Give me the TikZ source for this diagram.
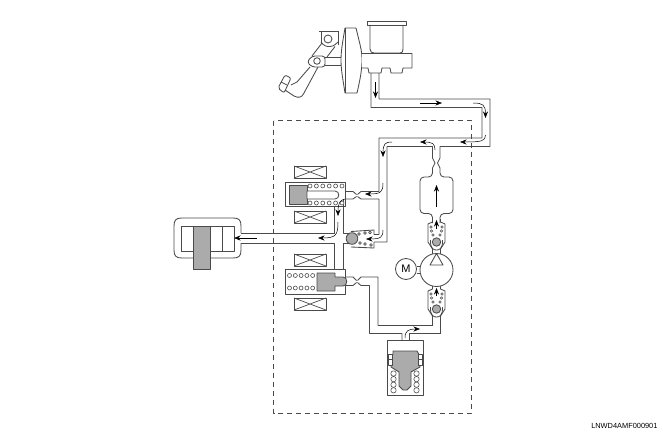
\documentclass[tikz,border=0pt]{standalone}
\usepackage{fontspec}
\setmainfont{Liberation Sans}
\usetikzlibrary{arrows.meta}
\definecolor{wallgray}{HTML}{4A4A4A}
\definecolor{partgray}{HTML}{ABABAB}
\tikzset{
    wall/.style={draw=wallgray, line width=0.85pt, line join=round},
    part/.style={wall, fill=partgray},
    coil/.style={wall, line width=0.6pt, fill=white},
    flow/.style={draw=black, line width=0.5pt, -{Stealth[length=6.5pt, width=5pt]}},
    magnet/.style={wall, line width=0.7pt}
}
\begin{document}
\begin{tikzpicture}[x=1pt, y=-1pt]
    % the frame
    \useasboundingbox (0,0) rectangle (663,436);
    \draw[wall, dashed, dash pattern=on 5pt off 4pt] (273.5,120.5) rectangle (471.5,413);

    % the pedal
    \draw[wall] (319,31) -- (339,31);
    \draw[wall] (321,31) -- (321,42) (338,31) -- (338,45);
    \draw[wall, rounded corners=3pt] (321,42) -- (325,46.5) -- (333,46.5) -- (338,42);
    \draw[wall] (328,39) circle (4);
    \draw[wall] (322,43) -- (312,56) (335,46.5) -- (327,57);
    \draw[wall, rounded corners=3pt] (312,56) -- (325,56) -- (325,67) -- (312,67) -- (307,62) -- cycle;
    \draw[wall] (317,61) circle (3.3);
    \draw[wall] (310,67) -- (297,82) -- (291,85);
    \draw[wall] (318,67) -- (304,93) .. controls (302,98) and (298,98) .. (294,96) -- (285,90);
    \draw[wall, rounded corners=2pt] (278,88) -- (285,75) -- (291,78) -- (284,93) -- cycle;
    \draw[wall] (281,82) -- (287,85);
    \draw[wall] (325,57) -- (341,57) (325,65) -- (341,65);

    % the booster
    \draw[wall, fill=white] (345,28) -- (356,28) .. controls (360,45) and (362,50) .. (362,60)
        .. controls (362,70) and (360,80) .. (357,93) -- (345,93)
        .. controls (343,80) and (341,70) .. (341,60) .. controls (341,50) and (343,40) .. (345,28) -- cycle;
    \draw[wall] (345,28) -- (345,93);

    % the master cylinder
    \draw[wall] (367,21) rectangle (406,25);
    \draw[wall] (370,25) -- (370,49) .. controls (370,52) and (372,53) .. (374,53) -- (400,53)
        .. controls (402,53) and (403,52) .. (403,49) -- (403,25);
    \draw[wall, fill=white] (362,53.5) -- (412,53.5) -- (412,68) -- (403,68) -- (402,73) -- (391,73)
        -- (390,68) -- (382,68) -- (381,73) -- (369,73) -- (368,68) -- (362,68);

    % the pipe to the unit
    \draw[wall] (371,73) -- (371,107.5) -- (482,107.5) -- (482,138) -- (379,138) -- (379,191.5)
        -- (361,191.5) -- (357.5,194.5);
    \draw[wall] (357.5,196.5) -- (361,199) -- (379,199) -- (379,234.5) -- (374,234.5);
    \draw[wall] (379,73) -- (379,99) -- (490,99) -- (490,146.5) -- (440,146.5) -- (440,158)
        -- (437.5,163) -- (440,168);
    \draw[wall, rounded corners=4pt] (440,168) -- (440,177) -- (453,177) -- (453,213.5) -- (440,213.5) -- (440,223);
    \draw[wall, rounded corners=4pt] (432.5,223) -- (432.5,213.5) -- (420,213.5) -- (420,177) -- (432.5,177) -- (432.5,168);
    \draw[wall] (432.5,168) -- (435,163) -- (432.5,158) -- (432.5,146.5) -- (387,146.5)
        -- (387,242) -- (374,242);
    \draw[wall] (345,191.5) -- (353,191.5) -- (356.5,194.5) (356.5,196.5) -- (353,199) -- (345,199);

    % the pipe to the wheel
    \draw[wall] (350,233) -- (343,233) -- (343,199);
    \draw[wall] (334.5,207) -- (334.5,233) -- (241,233);
    \draw[wall] (241,243) -- (334.5,243) -- (334.5,269);
    \draw[wall] (343,269) -- (343,243) -- (350,243);

    % the wheel cylinder
    \draw[wall] (241,233) -- (241,226) .. controls (241,220) and (239,218) .. (233,218) -- (182,218)
        .. controls (176,218) and (174,220) .. (174,226) -- (174,250) .. controls (174,256) and (176,258) .. (182,258)
        -- (233,258) .. controls (239,258) and (241,256) .. (241,250) -- (241,243);
    \draw[wall] (181,226) rectangle (234,251);
    \draw[wall] (222,226) -- (222,251);
    \draw[part] (193,226) rectangle (210,269);

    % the solenoid valves
    \foreach \ypos in {166,211,254,298} {
        \draw[magnet] (294,\ypos) rectangle (326,\ypos+12);
        \draw[magnet] (294,\ypos) -- (326,\ypos+12) (294,\ypos+12) -- (326,\ypos);
    };
    \draw[wall] (285,182) rectangle (345,206.5);
    \draw[part] (289,185) rectangle (307,204);
    \draw[wall, fill=white] (307,191) -- (335,191) .. controls (340,191) and (340,199) .. (335,199) -- (307,199) -- cycle;
    \foreach \i in {0,...,5} {
        \draw[coil] ({310+\i*6.4},186) circle (2);
        \draw[coil] ({310+\i*6.4},203) circle (2);
    };
    \draw[wall] (285,269.5) rectangle (345,294);
    \draw[part] (317,273) -- (335,273) -- (335,277) -- (343,277) .. controls (348,277) and (348,286) .. (343,286)
        -- (335,286) -- (335,291) -- (317,291) -- cycle;
    \foreach \i in {0,...,4} {
        \draw[coil] ({289.5+\i*5.8},275.5) circle (2);
        \draw[coil] ({289.5+\i*5.8},288) circle (2);
    };
    \draw[wall] (345,277) -- (353,277) -- (356.5,280.5) (356.5,282.5) -- (353,285.5) -- (345,285.5);
    \draw[wall] (378,325.5) -- (378,277) -- (361,277) -- (357.5,280.5);
    \draw[wall] (357.5,282.5) -- (361,285.5) -- (369.5,285.5) -- (369.5,333.5) -- (402,333.5) -- (402,340);

    % the check valve
    \draw[wall] (351,231.5) -- (374,230) -- (374,234.5);
    \draw[wall] (351,247) -- (374,248) -- (374,242);
    \draw[part] (352,238.5) circle (5.8);
    \foreach \xpos/\ypos in {359/234, 365/233, 370/232.5, 360/243, 365/244, 371/245} {
        \draw[coil] (\xpos,\ypos) circle (1.4);
    };

    % the pump
    \draw[wall] (432.5,325.5) -- (378,325.5);
    \draw[wall] (441,333.5) -- (409,333.5) -- (409,340);
    \foreach \ypos in {222,289} {
        \begin{scope}[shift={(0,\ypos)}]
            \draw[wall] (432.5,-3) -- (432.5,0) -- (428,2) -- (428,20) -- (432.5,27) -- (432.5,32);
            \draw[wall] (440.5,-3) -- (440.5,0) -- (445,2) -- (445,20) -- (440.5,27) -- (440.5,32);
            \draw[wall] (430.5,18) .. controls (430,27) and (434,28) .. (436.5,28)
                .. controls (439,28) and (443,27) .. (442.5,18);
            \draw[part] (436.5,20) circle (4.2);
            \foreach \xpos/\yshift in {431/5, 442/5, 431.5/9, 441.5/9, 433/13, 440/13} {
                \draw[coil] (\xpos,\yshift) circle (1.3);
            };
        \end{scope}
    };
    \draw[wall] (432.5,321) -- (432.5,325.5);
    \draw[wall] (440.5,321) -- (440.5,333.5);
    \draw[wall, fill=white] (436.5,270) circle (16.5);
    \draw[wall] (436.5,253.5) -- (430,265) -- (443,265) -- cycle;
    \node[draw=wallgray, line width=0.85pt, circle, minimum size=21pt, inner sep=0pt, font=\fontsize{11}{11}\selectfont] (motor) at (406,269) {M};
    \draw[wall] (motor.east |- 0,266) -- (420.5,266) (motor.east |- 0,273) -- (420.5,273);

    % the reservoir pad
    \draw[wall] (387,340) rectangle (423,395);
    \draw[part] (393,354) -- (391,356) -- (391,367) -- (399,372) -- (399,386) -- (403,390) -- (407,390)
        -- (411,386) -- (411,372) -- (420,367) -- (420,356) -- (417,351) -- (393,351) -- cycle;
    \draw[wall, fill=white] (388,354) rectangle (392,365);
    \draw[wall, fill=white] (418,354) rectangle (422,365);
    \draw[wall] (388,359.5) -- (392,359.5) (418,359.5) -- (422,359.5);
    \foreach \i in {0,...,3} {
        \draw[coil] (393.5,{373.5+\i*5.6}) circle (2.7);
        \draw[coil] (416.5,{373.5+\i*5.6}) circle (2.7);
    };

    % the flow arrows
    \draw[flow] (375.5,82) -- (375.5,98);
    \draw[flow] (420,103) -- (442,103);
    \draw[flow] (473,103) .. controls (483,103) and (485.5,105) .. (485.5,118);
    \draw[flow] (485.5,135) .. controls (485.5,141) and (482,142) .. (460,142);
    \draw[flow] (435,150) .. controls (435,144) and (433,142) .. (420,142);
    \draw[flow] (392,142) .. controls (385,142) and (383,144) .. (383,157);
    \draw[flow] (383,183) .. controls (383,192) and (381,194) .. (365,194);
    \draw[flow] (383,230) .. controls (383,237) and (381,239) .. (366,239);
    \draw[flow] (345,199) .. controls (340,200) and (338,203) .. (338,216);
    \draw[flow] (338,222) .. controls (338,235) and (336,238) .. (318,238);
    \draw[flow] (257,238) -- (234,238);
    \draw[flow] (436.5,207) -- (436.5,185);
    \draw[flow] (436.5,229) -- (436.5,220);
    \draw[flow] (436.5,296) -- (436.5,288);
    \draw[flow] (405,338) .. controls (405,331) and (408,329) .. (420,329);

    % the code
    \node[anchor=east, font=\fontsize{7.4}{8}\selectfont, text=black] (code) at (661,426) {LNWD4AMF000901};
\end{tikzpicture}
\end{document}
